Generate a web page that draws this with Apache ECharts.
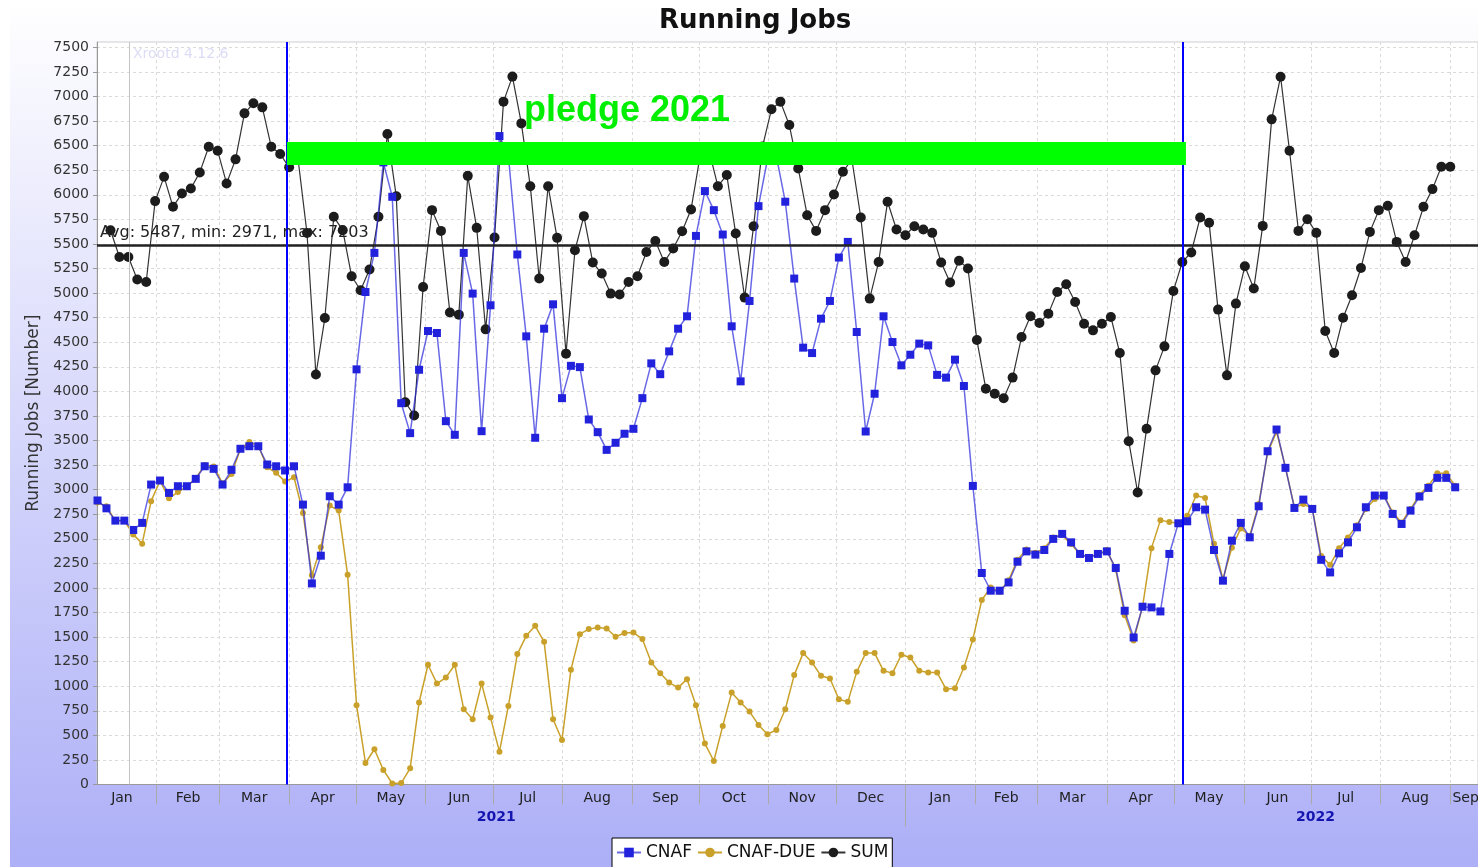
<!DOCTYPE html>
<html>
<head>
<meta charset="utf-8">
<title>Running Jobs</title>
<script src="https://cdn.jsdelivr.net/npm/echarts@6/dist/echarts.min.js"></script>
<style>
  html, body { margin: 0; padding: 0; background: #fff; }
  #chart { width: 1478px; height: 867px; }
</style>
</head>
<body>
<div id="chart"></div>
<script>
// x positions: days counted from 2021-01-01
var firstDay = 4.6;    // first CNAF sample
var stepDays = 3.985;  // one sample every ~4 days
var sumShift = 1.8;    // SUM samples are drawn a little to the right

var cnaf = [
  2890, 2810, 2685, 2685, 2590, 2662, 3052, 3093, 2967, 3035,
  3035, 3110, 3238, 3212, 3052, 3202, 3416, 3442, 3442, 3256,
  3238, 3195, 3238, 2848, 2046, 2328, 2933, 2848, 3024, 4224,
  5011, 5409, 6330, 5980, 3880, 3575, 4220, 4614, 4594, 3697,
  3558, 5409, 4995, 3595, 4876, 6598, 6400, 5393, 4560, 3528,
  4638, 4886, 3931, 4260, 4247, 3714, 3585, 3405, 3477, 3569,
  3619, 3931, 4285, 4175, 4407, 4638, 4764, 5582, 6038, 5844,
  5596, 4662, 4102, 4920, 5885, 6358, 6393, 5930, 5148, 4445,
  4390, 4740, 4920, 5362, 5521, 4604, 3592, 3976, 4764, 4502,
  4265, 4373, 4486, 4468, 4168, 4140, 4323, 4055, 3038, 2152,
  1972, 1972, 2056, 2267, 2372, 2339, 2386, 2499, 2550, 2464,
  2346, 2305, 2346, 2372, 2203, 1768, 1496, 1809, 1802, 1761,
  2346, 2658, 2678, 2821, 2797, 2386, 2074, 2481, 2662, 2515,
  2831, 3391, 3612, 3222, 2814, 2899, 2804, 2286, 2158, 2352,
  2464, 2617, 2821, 2940, 2940, 2753, 2651, 2787, 2930, 3018,
  3120, 3120, 3024
];

var cnafDue = [
  2870, 2830, 2683, 2683, 2545, 2450, 2883, 3090, 2912, 2976,
  3030, 3118, 3250, 3236, 3064, 3160, 3413, 3486, 3448, 3228,
  3171, 3082, 3126, 2763, 2130, 2413, 2838, 2787, 2135, 807,
  219, 359, 148, 10, 15, 165, 834, 1218, 1027, 1088,
  1218, 766, 664, 1027, 681, 334, 800, 1327, 1513, 1615,
  1452, 664, 453, 1167, 1530, 1581, 1598, 1588, 1503, 1541,
  1547, 1480, 1241, 1133, 1037, 986, 1072, 807, 416, 239,
  596, 935, 834, 742, 606, 512, 555, 766, 1113, 1337,
  1241, 1106, 1078, 868, 841, 1146, 1337, 1337, 1157, 1133,
  1320, 1292, 1157, 1139, 1139, 970, 980, 1190, 1476, 1877,
  2004, 1959, 2079, 2286, 2392, 2357, 2405, 2513, 2540, 2446,
  2343, 2316, 2343, 2385, 2187, 1722, 1466, 1810, 2405, 2690,
  2672, 2659, 2735, 2940, 2915, 2450, 2089, 2410, 2606, 2531,
  2853, 3377, 3590, 3226, 2819, 2853, 2809, 2325, 2235, 2405,
  2514, 2639, 2802, 2904, 2948, 2768, 2666, 2802, 2948, 3040,
  3166, 3166, 3040
];

var sum = [
  null, 5640, 5368, 5368, 5138, 5113, 5936, 6183, 5878, 6014,
  6065, 6228, 6489, 6448, 6116, 6361, 6829, 6931, 6890, 6489,
  6415, 6280, 6364, 5611, 4172, 4746, 5776, 5640, 5171, 5029,
  5240, 5776, 6618, 5985, 3890, 3755, 5062, 5844, 5633, 4802,
  4781, 6193, 5664, 4631, 5566, 6948, 7203, 6727, 6088, 5148,
  6088, 5562, 4384, 5436, 5783, 5311, 5199, 4995, 4985, 5113,
  5171, 5419, 5531, 5317, 5454, 5630, 5851, 6389, 6454, 6088,
  6201, 5606, 4954, 5681, 6491, 6870, 6948, 6710, 6269, 5793,
  5633, 5844, 6004, 6234, 6362, 5770, 4944, 5317, 5929, 5647,
  5589, 5681, 5647, 5613, 5311, 5107, 5330, 5250, 4522, 4027,
  3976, 3931, 4140, 4553, 4764, 4696, 4791, 5012, 5090, 4910,
  4689, 4621, 4689, 4757, 4390, 3493, 2971, 3619, 4214, 4458,
  5022, 5317, 5413, 5770, 5715, 4832, 4163, 4893, 5273, 5046,
  5684, 6768, 7202, 6448, 5633, 5752, 5613, 4614, 4390, 4750,
  4978, 5256, 5623, 5844, 5888, 5521, 5317, 5589, 5878, 6058,
  6285, 6285
];

var monthStarts = [31, 59, 90, 120, 151, 181, 212, 243, 273, 304, 334,
  365, 396, 424, 455, 485, 516, 546, 577, 608];
var monthMids = [15.5, 45, 74.5, 105, 135.5, 166, 196.5, 227.5, 258, 288.5, 319, 349.5,
  380.5, 410, 439.5, 470, 500.5, 531, 561.5, 592.5, 615];
var monthNames = ['Jan', 'Feb', 'Mar', 'Apr', 'May', 'Jun', 'Jul', 'Aug', 'Sep', 'Oct', 'Nov', 'Dec',
  'Jan', 'Feb', 'Mar', 'Apr', 'May', 'Jun', 'Jul', 'Aug', 'Sep'];
var yearMids = [182.5, 548];
var yearNames = ['2021', '2022'];
var yearBreaks = [365];
var yTicks = [0, 250, 500, 750, 1000, 1250, 1500, 1750, 2000, 2250, 2500, 2750, 3000,
  3250, 3500, 3750, 4000, 4250, 4500, 4750, 5000, 5250, 5500, 5750, 6000, 6250, 6500,
  6750, 7000, 7250, 7500];

var avgValue = 5487;
var statsText = 'Avg: 5487, min: 2971, max: 7203';
var blueLineDays = [89.1, 488.9];
var pledgeDays = [89.1, 490.2];
var pledgeRange = [6303, 6537];
var xrootdDay = 18.7;

var FONT = 'DejaVu Sans';

function toPoints(values, start) {
  var pts = [];
  values.forEach(function (v, i) {
    if (v !== null) pts.push([start + i * stepDays, v]);
  });
  return pts;
}

function lookup(keys, names) {
  return function (v) {
    var k = keys.indexOf(v);
    return k >= 0 ? names[k] : '';
  };
}

var chart = echarts.init(document.getElementById('chart'));

chart.setOption({
  animation: false,
  backgroundColor: new echarts.graphic.LinearGradient(0, 0, 0, 1, [
    { offset: 0, color: '#ffffff' },
    { offset: 1, color: '#adaff7' }
  ]),
  title: {
    text: 'Running Jobs',
    left: 654,
    top: 3,
    textStyle: { fontFamily: FONT, fontSize: 26, fontWeight: 'bold', color: '#111' }
  },
  legend: {
    left: 612,
    top: 838,
    padding: [6, 4, 8, 4],
    itemGap: 5,
    itemWidth: 24,
    itemHeight: 12,
    backgroundColor: '#fff',
    borderColor: '#000',
    borderWidth: 1,
    borderRadius: 0,
    data: ['CNAF', 'CNAF-DUE', 'SUM'],
    textStyle: { fontFamily: FONT, fontSize: 17, color: '#111' }
  },
  grid: {
    left: 97,
    right: 0,
    top: 42,
    bottom: 82.5,
    containLabel: false,
    outerBoundsMode: 'none',
    show: true,
    backgroundColor: '#fff',
    borderColor: '#cfcfcf',
    borderWidth: 1
  },
  xAxis: [{
    type: 'value',
    min: 4.37,
    max: 620.5,
    axisLine: { show: true, lineStyle: { color: '#999', width: 1 } },
    axisTick: { show: true, customValues: monthStarts, length: 20, lineStyle: { color: '#aaa' } },
    axisLabel: {
      customValues: monthMids,
      formatter: lookup(monthMids, monthNames),
      fontFamily: FONT, fontSize: 14, color: '#222', margin: 7
    },
    splitLine: { show: true, lineStyle: { color: '#dadada', type: [3, 3] } }
  }, {
    type: 'value',
    position: 'bottom',
    offset: 16,
    min: 4.37,
    max: 620.5,
    axisLine: { show: false },
    axisTick: { show: true, customValues: yearBreaks, length: 26, lineStyle: { color: '#aaa' } },
    axisLabel: {
      customValues: yearMids,
      formatter: lookup(yearMids, yearNames),
      fontFamily: FONT, fontSize: 14, fontWeight: 'bold', color: '#1414b0', margin: 10
    },
    splitLine: { show: false }
  }],
  yAxis: {
    type: 'value',
    min: 0,
    max: 7555,
    name: 'Running Jobs [Number]',
    nameLocation: 'middle',
    nameGap: 51,
    nameTextStyle: { fontFamily: FONT, fontSize: 17, color: '#333' },
    axisLine: { show: true, lineStyle: { color: '#999' } },
    axisTick: { show: true, customValues: yTicks, length: 4, lineStyle: { color: '#999' } },
    axisLabel: {
      customValues: yTicks,
      formatter: function (v) { return String(v); },
      fontFamily: FONT, fontSize: 14, color: '#333', margin: 8
    },
    splitLine: { show: true, lineStyle: { color: '#dadada', type: [3, 3] } }
  },
  graphic: [
    { type: 'rect', left: 0, top: 0, shape: { width: 10, height: 867 }, style: { fill: '#fff' } },
    {
      type: 'text', left: 133, top: 47,
      style: { text: 'Xrootd 4.12.6', fill: '#dcdcf6', font: '14px "DejaVu Sans"' }
    },
    {
      type: 'text', left: 524, top: 93, z: 20,
      style: { text: 'pledge 2021', fill: '#00ee00', font: 'bold 36px "Liberation Sans"' }
    }
  ],
  series: [
    {
      name: 'SUM',
      type: 'line',
      z: 2,
      data: toPoints(sum, firstDay + sumShift),
      symbol: 'circle',
      symbolSize: 10,
      itemStyle: { color: '#1c1c1c' },
      lineStyle: { color: '#333', width: 1.2 },
      markLine: {
        silent: true,
        symbol: ['none', 'none'],
        label: { show: false },
        data: [{ xAxis: xrootdDay, lineStyle: { color: '#c4c4c4', width: 1, type: 'solid' } }]
      }
    },
    {
      name: 'CNAF-DUE',
      type: 'line',
      z: 3,
      data: toPoints(cnafDue, firstDay),
      symbol: 'circle',
      symbolSize: 6,
      itemStyle: { color: '#c9a12a' },
      lineStyle: { color: '#c9a12a', width: 1.5 }
    },
    {
      name: 'CNAF',
      type: 'line',
      z: 4,
      data: toPoints(cnaf, firstDay),
      symbol: 'rect',
      symbolSize: 8,
      itemStyle: { color: '#2222dd' },
      lineStyle: { color: 'rgba(40,40,220,0.7)', width: 1.5 }
    },
    {
      // pledge band, drawn over the series
      name: 'pledge',
      type: 'custom',
      z: 10,
      silent: true,
      encode: { x: [0, 1], y: [2, 3] },
      data: [[pledgeDays[0], pledgeDays[1], pledgeRange[0], pledgeRange[1]]],
      renderItem: function (params, api) {
        var p0 = api.coord([api.value(0), api.value(3)]);
        var p1 = api.coord([api.value(1), api.value(2)]);
        return {
          type: 'rect',
          shape: { x: p0[0], y: p0[1], width: p1[0] - p0[0], height: p1[1] - p0[1] },
          style: { fill: '#00ff00' }
        };
      }
    },
    {
      name: 'annotations',
      type: 'line',
      z: 11,
      silent: true,
      data: [],
      markLine: {
        silent: true,
        symbol: ['none', 'none'],
        data: [
          {
            yAxis: avgValue,
            lineStyle: { color: '#222', width: 2.5, type: 'solid' },
            label: {
              show: true, formatter: statsText, position: 'insideStartTop',
              distance: [3, 4], fontFamily: FONT, fontSize: 16, color: '#222'
            }
          },
          { xAxis: blueLineDays[0], lineStyle: { color: '#0000ff', width: 2, type: 'solid' }, label: { show: false } },
          { xAxis: blueLineDays[1], lineStyle: { color: '#0000ff', width: 2, type: 'solid' }, label: { show: false } }
        ]
      }
    }
  ]
});
</script>
</body>
</html>
